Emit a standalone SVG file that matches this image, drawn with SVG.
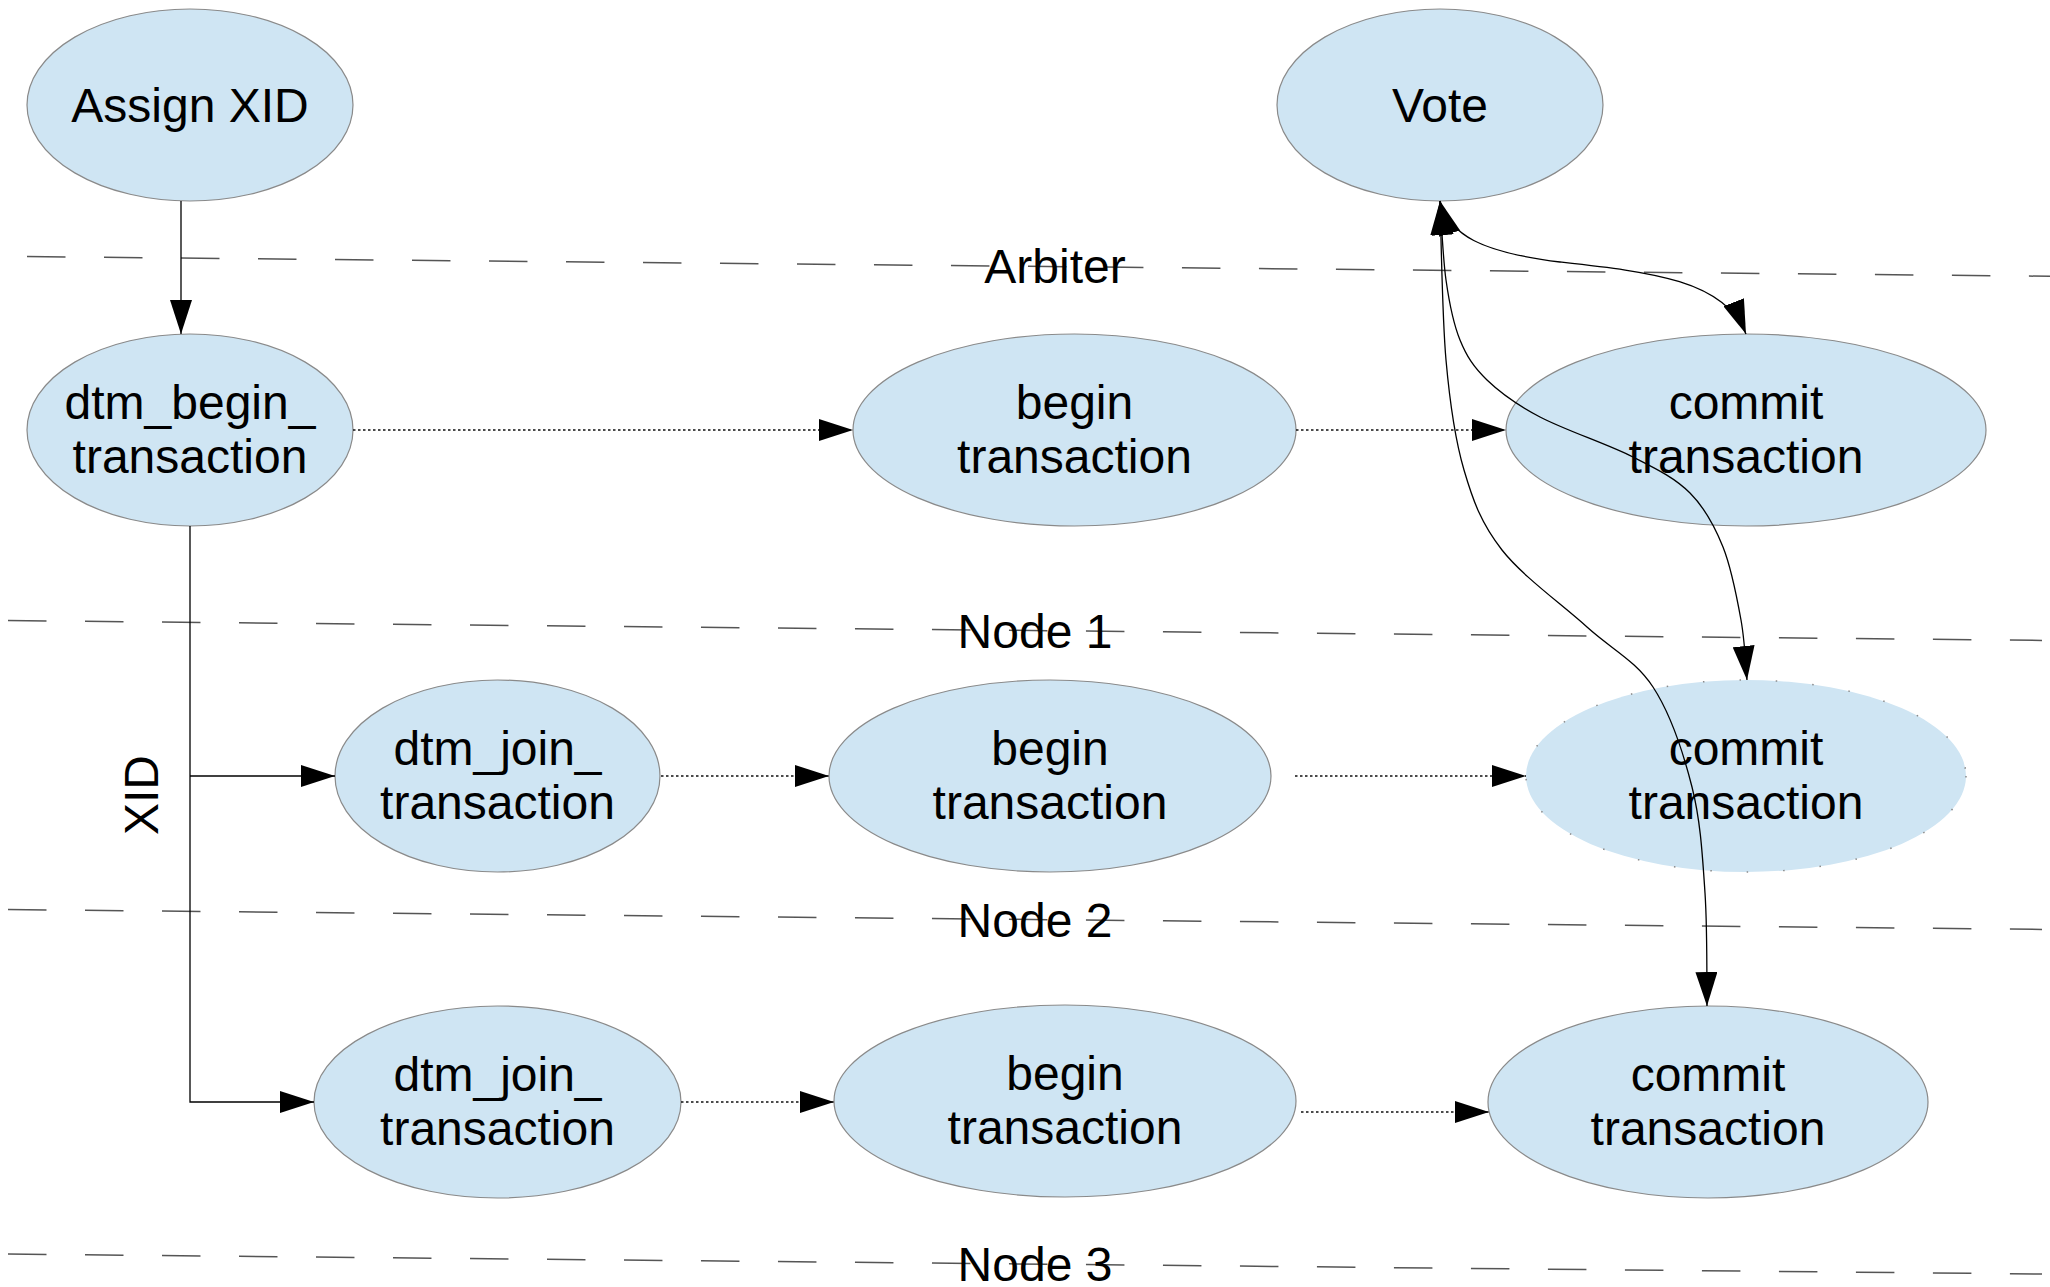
<svg xmlns="http://www.w3.org/2000/svg" width="2050" height="1287" viewBox="0 0 2050 1287">
  <style>
    .node { fill: #cfe5f3; stroke: #8a8a8a; stroke-width: 1.2; }
    .node.pending { stroke: #8a8a8a; stroke-width: 1.5; stroke-dasharray: 1.5 35; }
    .label { font-family: "Liberation Sans", Arial, sans-serif; font-size: 48px; fill: #000; text-anchor: middle; }
    .lane { stroke: #555; stroke-width: 1.5; stroke-dasharray: 38.5 38.5; fill: none; }
    .flow { stroke: #000; stroke-width: 1.3; fill: none; }
    .async { stroke: #111; stroke-width: 1.3; stroke-dasharray: 2.5 2.5; fill: none; }
  </style>
  <defs>
    <marker id="arrow" viewBox="0 0 34 22" refX="34" refY="11" markerWidth="34" markerHeight="22" markerUnits="userSpaceOnUse" orient="auto-start-reverse">
      <path d="M0,0 L34,11 L0,22 Z" fill="#000"/>
    </marker>
  </defs>
  <rect width="2050" height="1287" fill="#fff"/>

  <!-- swimlane separators -->
  <g id="lanes">
    <line class="lane" x1="27" y1="256.5" x2="2050" y2="276.3"/>
    <line class="lane" x1="8" y1="620.5" x2="2042" y2="640.4"/>
    <line class="lane" x1="8" y1="909.5" x2="2042" y2="929.4"/>
    <line class="lane" x1="8" y1="1254" x2="2042" y2="1274"/>
    <text class="label" x="1055" y="283">Arbiter</text>
    <text class="label" x="1035" y="647.5">Node 1</text>
    <text class="label" x="1035" y="936.5">Node 2</text>
    <text class="label" x="1035" y="1281">Node 3</text>
  </g>

  <!-- arbiter -->
  <g id="assign-xid">
    <ellipse class="node" cx="190" cy="105" rx="163" ry="96"/>
    <text class="label" x="190" y="122">Assign XID</text>
  </g>
  <g id="vote">
    <ellipse class="node" cx="1440" cy="105" rx="163" ry="96"/>
    <text class="label" x="1440" y="122">Vote</text>
  </g>

  <!-- node 1 -->
  <g id="dtm-begin">
    <ellipse class="node" cx="190" cy="430" rx="163" ry="96"/>
    <text class="label" x="190" y="419">dtm_begin_</text>
    <text class="label" x="190" y="473">transaction</text>
  </g>
  <g id="begin-1">
    <ellipse class="node" cx="1074.5" cy="430" rx="221.5" ry="96"/>
    <text class="label" x="1074.5" y="419">begin</text>
    <text class="label" x="1074.5" y="473">transaction</text>
  </g>
  <g id="commit-1">
    <ellipse class="node" cx="1746" cy="430" rx="240" ry="96"/>
    <text class="label" x="1746" y="419">commit</text>
    <text class="label" x="1746" y="473">transaction</text>
  </g>

  <!-- node 2 -->
  <g id="dtm-join-2">
    <ellipse class="node" cx="497.5" cy="776" rx="162.5" ry="96"/>
    <text class="label" x="497.5" y="765">dtm_join_</text>
    <text class="label" x="497.5" y="819">transaction</text>
  </g>
  <g id="begin-2">
    <ellipse class="node" cx="1050" cy="776" rx="221" ry="96"/>
    <text class="label" x="1050" y="765">begin</text>
    <text class="label" x="1050" y="819">transaction</text>
  </g>
  <g id="commit-2">
    <ellipse class="node pending" cx="1746" cy="776" rx="220" ry="96"/>
    <text class="label" x="1746" y="765">commit</text>
    <text class="label" x="1746" y="819">transaction</text>
  </g>

  <!-- node 3 -->
  <g id="dtm-join-3">
    <ellipse class="node" cx="497.5" cy="1102" rx="183.5" ry="96"/>
    <text class="label" x="497.5" y="1091">dtm_join_</text>
    <text class="label" x="497.5" y="1145">transaction</text>
  </g>
  <g id="begin-3">
    <ellipse class="node" cx="1065" cy="1101" rx="231" ry="96"/>
    <text class="label" x="1065" y="1090">begin</text>
    <text class="label" x="1065" y="1144">transaction</text>
  </g>
  <g id="commit-3">
    <ellipse class="node" cx="1708" cy="1102" rx="220" ry="96"/>
    <text class="label" x="1708" y="1091">commit</text>
    <text class="label" x="1708" y="1145">transaction</text>
  </g>

  <g id="connectors">
    <!-- XID distribution -->
    <line class="flow" x1="181" y1="201" x2="181" y2="334" marker-end="url(#arrow)"/>
    <polyline class="flow" points="190,526 190,1102 314,1102" marker-end="url(#arrow)"/>
    <line class="flow" x1="190" y1="776" x2="335" y2="776" marker-end="url(#arrow)"/>
    <text class="label" transform="translate(158,795) rotate(-90)">XID</text>

    <!-- local transaction steps -->
    <line class="async" x1="353" y1="430" x2="853" y2="430" marker-end="url(#arrow)"/>
    <line class="async" x1="1296" y1="430" x2="1506" y2="430" marker-end="url(#arrow)"/>
    <line class="async" x1="661" y1="776" x2="829" y2="776" marker-end="url(#arrow)"/>
    <line class="async" x1="1295" y1="776" x2="1526" y2="776" marker-end="url(#arrow)"/>
    <line class="async" x1="681" y1="1102" x2="834" y2="1102" marker-end="url(#arrow)"/>
    <line class="async" x1="1301" y1="1112" x2="1489" y2="1112" marker-end="url(#arrow)"/>

    <!-- voting -->
    <path class="flow" d="M1440,201 C1450,235 1480,252 1560,262 C1650,272 1725,280 1746,334" marker-start="url(#arrow)" marker-end="url(#arrow)"/>
    <path class="flow" d="M1440,201 C1441,214 1442.7,256.8 1446,280 C1449.3,303.2 1453.2,323.3 1460,340 C1466.8,356.7 1473.7,367.2 1487,380 C1500.3,392.8 1515.7,404.2 1540,417 C1564.3,429.8 1608,444.3 1633,457 C1658,469.7 1675,478 1690,493 C1705,508 1714.5,525.8 1723,547 C1731.5,568.2 1737,597.8 1741,620 C1745,642.2 1746,670 1747,680" marker-start="url(#arrow)" marker-end="url(#arrow)"/>
    <path class="flow" d="M1440,201 C1441,227.5 1442,315.2 1446,360 C1450,404.8 1454.7,438.3 1464,470 C1473.3,501.7 1481.5,523.8 1502,550 C1522.5,576.2 1561.8,604.2 1587,627 C1612.2,649.8 1635.5,660.3 1653,687 C1670.5,713.7 1683.3,752.7 1692,787 C1700.7,821.3 1702.5,856.5 1705,893 C1707.5,929.5 1706.7,987.2 1707,1006" marker-start="url(#arrow)" marker-end="url(#arrow)"/>
  </g>
</svg>
